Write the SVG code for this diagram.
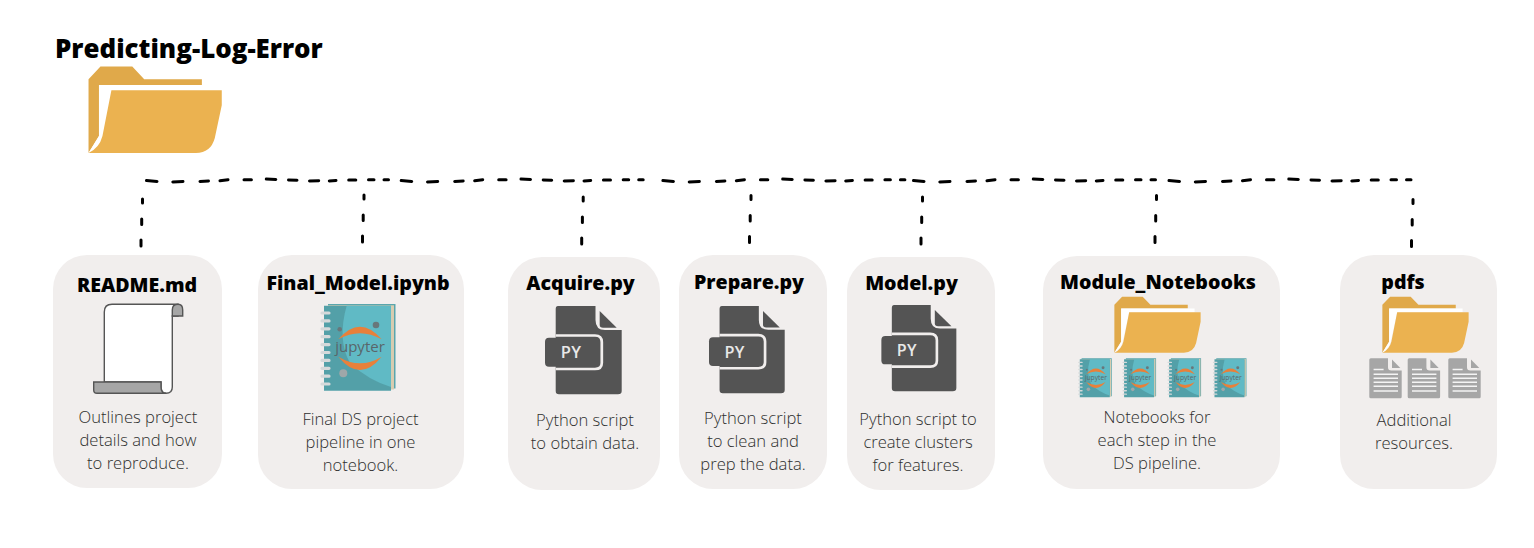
<svg xmlns="http://www.w3.org/2000/svg" width="1534" height="548" viewBox="0 0 1534 548">
<style>
.card{fill:#f1eeed}
.h{font-family:"Open Sans","Liberation Sans",sans-serif;font-weight:800;font-size:19.600px;fill:#000;text-anchor:middle}
.b{font-family:"Open Sans","Liberation Sans",sans-serif;font-weight:300;font-size:16.600px;fill:#2e2e2e;text-anchor:middle}
.dash{fill:none;stroke:#000;stroke-width:3;stroke-linecap:round}
.roll{stroke:#555;stroke-width:1.400}
</style>
<defs>
<symbol id="folder" viewBox="0 0 134 87" overflow="visible">
<path fill="#e0a94a" d="M0 12.700L12 0H44L56 12.700H114V18.500H10.500V70L0 87Z"/>
<path fill="#fff" d="M10.500 18.500H124.600V24H23L13 70Q10 82 0 87L10.500 70Z"/>
<path fill="#ebb250" d="M23 24H134V39L127 72Q123 87 108 87H0Q11 82 14 70Z"/>
</symbol>
<symbol id="book" viewBox="0 0 76 86" overflow="visible">
<path fill="#5aa6ad" d="M8 -1H75.500V83.500H8Z"/>
<path fill="#d8ccb0" d="M8 0.300H74V84.500H8Z"/>
<path fill="#53a0a8" d="M4 0.700H71V85.700H4Z"/>
<path fill="#60bac5" d="M26.700 0.700H71V82Q48 75 30 58Q17 35 26.700 0.700Z"/>
<g stroke="#d5d9da" stroke-width="3.200" stroke-linecap="round">
<path d="M2 8H9M2 15.900H9M2 23.800H9M2 31.700H9M2 39.600H9M2 47.500H9M2 55.400H9M2 63.300H9M2 71.200H9M2 79H9"/>
</g>
<path fill="#e8803a" d="M18.300 34.300Q40 9 61.700 34.300Q40 22.300 18.300 34.300ZM18.300 51.700Q40 78.300 61.700 51.700Q40 64.900 18.300 51.700Z"/>
<circle cx="56" cy="20" r="3.300" fill="#68777b"/>
<circle cx="19.700" cy="24.300" r="2.300" fill="#68777b"/>
<circle cx="23.300" cy="68.300" r="4" fill="#9ea7a9"/>
<text x="40" y="46.700" text-anchor="middle" font-family="'Open Sans','Liberation Sans',sans-serif" font-size="15" fill="#59666a">jupyter</text>
</symbol>
<symbol id="py" viewBox="0 0 77 89" overflow="visible">
<path fill="#545454" d="M13 0H50.500V14Q50.500 24 60 24H76.700V85Q76.700 88.300 73 88.300H14Q10.700 88.300 10.700 85V3Q10.700 0 13 0Z"/>
<path fill="#545454" d="M54.700 5L71.700 21.700H58Q54.700 21.700 54.700 19Z"/>
<rect x="0" y="31.700" width="53.300" height="29" rx="4" fill="#545454"/>
<path fill="none" stroke="#f1eeed" stroke-width="2.700" d="M10.700 29.500H50Q56.800 29.500 56.800 36V57Q56.800 63 50 63H10.700"/>
<text x="26" y="52.300" text-anchor="middle" font-family="'Open Sans','Liberation Sans',sans-serif" font-weight="600" font-size="16.500" letter-spacing="0.400" fill="#e8e8e8">PY</text>
</symbol>
<symbol id="doc" viewBox="0 0 33 40" overflow="visible">
<path fill="#a6a6a6" d="M1.500 0H18.700V9Q18.700 12.300 22 12.300H32.400V38.500Q32.400 40 31 40H1.500Q0 40 0 38.500V1.500Q0 0 1.500 0Z"/>
<path fill="#a6a6a6" d="M22.700 1.300L31 9.700H22.700Z"/>
<path stroke="#f4f4f4" stroke-width="1.500" d="M4.300 11.300H14.300M4.300 16H28.700M4.300 20H28.700M4.300 24H28.700M4.300 28H28.700M4.300 32.700H28.700"/>
</symbol>
<path id="run" d="M146.500 180.600L157 181.400M172.800 182L183 181.500M200 181.400L208.500 181M220 180.700L228 179.700M244 179.700L251.400 179.700M266.300 179.100L275.800 179.500M288.500 180L297 180.300M309.500 181L318.700 180.800M329.300 181L336 180.500M348.700 180L355.800 180M368.500 179.800L374 179.800M384 179.800L388.500 179.800"/>
<path id="drop" d="M1.500 1L1.500 5M0.700 21L0.700 26.500M0 42L0 48"/>
</defs>

<g id="connectors" class="dash">
<use href="#run"/>
<use href="#run" x="254.700"/>
<use href="#run" x="516.400"/>
<use href="#run" x="767"/>
<use href="#run" x="1022.500"/>
<use href="#drop" x="141" y="198"/>
<use href="#drop" x="362.500" y="194"/>
<use href="#drop" x="581.700" y="196"/>
<use href="#drop" x="749.500" y="194.500"/>
<use href="#drop" x="921" y="196"/>
<use href="#drop" x="1155" y="194.500"/>
<use href="#drop" x="1411.500" y="198.500"/>
</g>

<g id="root">
<text x="55" y="58" font-family="'Open Sans','Liberation Sans',sans-serif" font-weight="800" font-size="25.900" fill="#000">Predicting-Log-Error</text>
<use href="#folder" x="88" y="66.500" width="134.300" height="86.500"/>
</g>

<g id="readme">
<rect class="card" x="53" y="255" width="169" height="233" rx="34"/>
<text class="h" x="137" y="292">README.md</text>
<path class="roll" fill="#fff" d="M104.300 312Q104.300 304.300 112 304.300H178V316H172.300V387Q172.300 393.300 166 393.300Q161 393.300 161 387V382H104.300Z"/>
<path class="roll" fill="#a6a6a6" d="M172.300 316V310Q172.300 304.300 178 304.300Q182.700 304.300 182.700 310V316Z"/>
<path class="roll" fill="#a6a6a6" d="M93.700 382H161V387Q161 393.300 166 393.300H97Q93.700 393.300 93.700 390Z"/>
<text class="b" x="138" y="423">Outlines project</text>
<text class="b" x="138" y="446">details and how</text>
<text class="b" x="138" y="469">to reproduce.</text>
</g>

<g id="final-model">
<rect class="card" x="258" y="255" width="206" height="234" rx="34"/>
<text class="h" x="358" y="290">Final_Model.ipynb</text>
<use href="#book" x="320" y="305" width="76" height="86"/>
<text class="b" x="360.500" y="425">Final DS project</text>
<text class="b" x="360.500" y="448">pipeline in one</text>
<text class="b" x="360.500" y="471">notebook.</text>
</g>

<g id="acquire">
<rect class="card" x="508" y="257" width="152" height="233" rx="34"/>
<text class="h" x="580.500" y="290">Acquire.py</text>
<use href="#py" x="545" y="306" width="77" height="89"/>
<text class="b" x="585" y="426">Python script</text>
<text class="b" x="585" y="449">to obtain data.</text>
</g>

<g id="prepare">
<rect class="card" x="679" y="255" width="148" height="234" rx="34"/>
<text class="h" x="749" y="289">Prepare.py</text>
<use href="#py" x="709" y="306" width="76" height="88"/>
<text class="b" x="753" y="424">Python script</text>
<text class="b" x="753" y="447">to clean and</text>
<text class="b" x="753" y="470">prep the data.</text>
</g>

<g id="model">
<rect class="card" x="847" y="257" width="148" height="233" rx="34"/>
<text class="h" x="911.500" y="290">Model.py</text>
<use href="#py" x="881" y="305" width="76" height="87"/>
<text class="b" x="918" y="425">Python script to</text>
<text class="b" x="918" y="448">create clusters</text>
<text class="b" x="918" y="471">for features.</text>
</g>

<g id="module-notebooks">
<rect class="card" x="1043" y="256" width="237" height="233" rx="34"/>
<text class="h" x="1158" y="289">Module_Notebooks</text>
<use href="#folder" x="1114" y="296.700" width="87" height="56"/>
<use href="#book" x="1078" y="358.300" width="34" height="39.500"/>
<use href="#book" x="1122.300" y="358.300" width="34" height="39.500"/>
<use href="#book" x="1167.300" y="358.300" width="34" height="39.500"/>
<use href="#book" x="1212.700" y="358.300" width="34" height="39.500"/>
<text class="b" x="1157" y="423">Notebooks for</text>
<text class="b" x="1157" y="446">each step in the</text>
<text class="b" x="1157" y="469">DS pipeline.</text>
</g>

<g id="pdfs">
<rect class="card" x="1340" y="255" width="157" height="234" rx="34"/>
<text class="h" x="1403" y="289">pdfs</text>
<use href="#folder" x="1382" y="296.700" width="87" height="56"/>
<use href="#doc" x="1369.300" y="358.300" width="33" height="40"/>
<use href="#doc" x="1407.700" y="358.300" width="33" height="40"/>
<use href="#doc" x="1448.300" y="358.300" width="33" height="40"/>
<text class="b" x="1414" y="426">Additional</text>
<text class="b" x="1414" y="449">resources.</text>
</g>
</svg>
